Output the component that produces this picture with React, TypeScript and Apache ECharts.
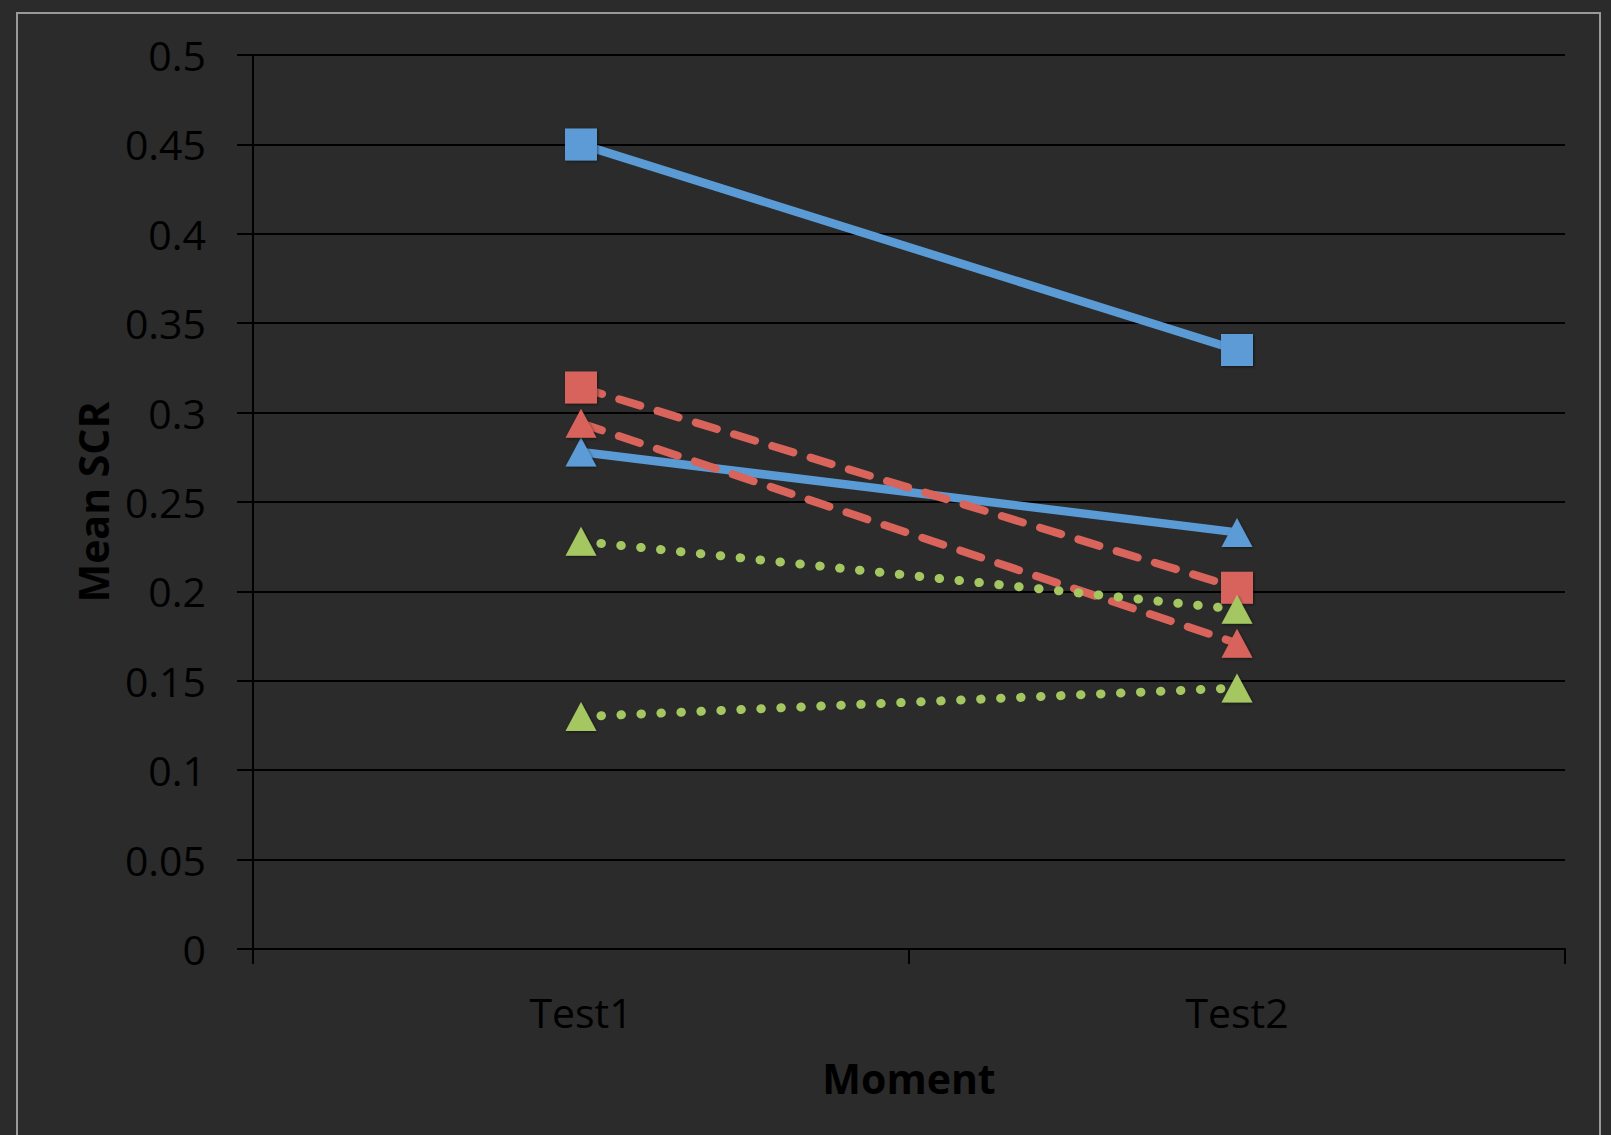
import React, { useEffect, useRef } from "react";
import * as echarts from "echarts";

const categories = ["Test1", "Test2"];
const yTickLabels = ["0", "0.05", "0.1", "0.15", "0.2", "0.25", "0.3", "0.35", "0.4", "0.45", "0.5"];

const blueSquare = [0.45, 0.335];
const blueTriangle = [0.278, 0.233];
const redSquare = [0.314, 0.202];
const redTriangle = [0.294, 0.171];
const greenUpper = [0.228, 0.19];
const greenLower = [0.13, 0.146];

const BLUE = "#5B9BD5";
const RED = "#D8645B";
const GREEN = "#A5C762";
const FONT = "'Open Sans', 'Liberation Sans', sans-serif";

export default function App() {
  const ref = useRef<HTMLDivElement>(null);

  useEffect(() => {
    document.body.style.margin = "0";
    document.body.style.background = "#2b2b2b";
    if (!ref.current) return;
    const chart = echarts.init(ref.current, null, { renderer: "svg" });

    const markerShadow = {
      shadowColor: "rgba(0,0,0,0.5)",
      shadowBlur: 3,
      shadowOffsetX: 1,
      shadowOffsetY: 1,
    };

    const mk = (
      name: string,
      data: number[],
      color: string,
      symbol: string,
      lineType: any,
      width: number
    ) => ({
      name,
      type: "line",
      data,
      symbol,
      symbolSize: symbol === "triangle" ? [31, 29] : 32,
      showSymbol: true,
      lineStyle: { color, width, type: lineType, cap: "round" },
      itemStyle: { color, borderWidth: 0, ...markerShadow },
      emphasis: { disabled: true },
      z: 3,
    });

    chart.setOption({
      animation: false,
      backgroundColor: "#2b2b2b",
      textStyle: { fontFamily: FONT },
      graphic: [
        {
          type: "rect",
          shape: { x: 17, y: 13, width: 1583, height: 1200 },
          style: { fill: "none", stroke: "#9a9a9a", lineWidth: 2 },
          silent: true,
        },
      ],
      grid: { left: 253, right: 46, top: 55, bottom: 186 },
      xAxis: {
        type: "category",
        data: categories,
        boundaryGap: true,
        axisLine: { show: true, lineStyle: { color: "#000", width: 2 } },
        axisTick: { show: true, length: 15, lineStyle: { color: "#000", width: 2 } },
        axisLabel: { color: "#000", fontSize: 41, margin: 42, fontFamily: FONT },
        splitLine: { show: false },
        name: "Moment",
        nameLocation: "middle",
        nameGap: 108,
        nameTextStyle: { color: "#000", fontSize: 41, fontWeight: "bold", fontFamily: FONT },
      },
      yAxis: {
        type: "value",
        min: 0,
        max: 0.5,
        interval: 0.05,
        axisLine: { show: true, lineStyle: { color: "#000", width: 2 } },
        axisTick: { show: true, length: 16, lineStyle: { color: "#000", width: 2 } },
        axisLabel: {
          color: "#000",
          fontSize: 41,
          margin: 47,
          fontFamily: FONT,
          formatter: (v: number) => yTickLabels[Math.round(v / 0.05)] ?? String(v),
        },
        splitLine: { show: true, lineStyle: { color: "#000", width: 2 } },
        name: "Mean SCR",
        nameLocation: "middle",
        nameGap: 140,
        nameTextStyle: { color: "#000", fontSize: 41, fontWeight: "bold", fontFamily: FONT },
      },
      series: [
        mk("Blue square", blueSquare, BLUE, "rect", "solid", 8.5),
        mk("Blue triangle", blueTriangle, BLUE, "triangle", "solid", 8.5),
        mk("Red square", redSquare, RED, "rect", [22, 18], 8),
        mk("Red triangle", redTriangle, RED, "triangle", [22, 18], 8),
        mk("Green upper", greenUpper, GREEN, "triangle", [0.5, 19.5], 9),
        mk("Green lower", greenLower, GREEN, "triangle", [0.5, 19.5], 9),
      ],
    });

    return () => chart.dispose();
  }, []);

  return <div ref={ref} style={{ width: 1611, height: 1135 }} />;
}
